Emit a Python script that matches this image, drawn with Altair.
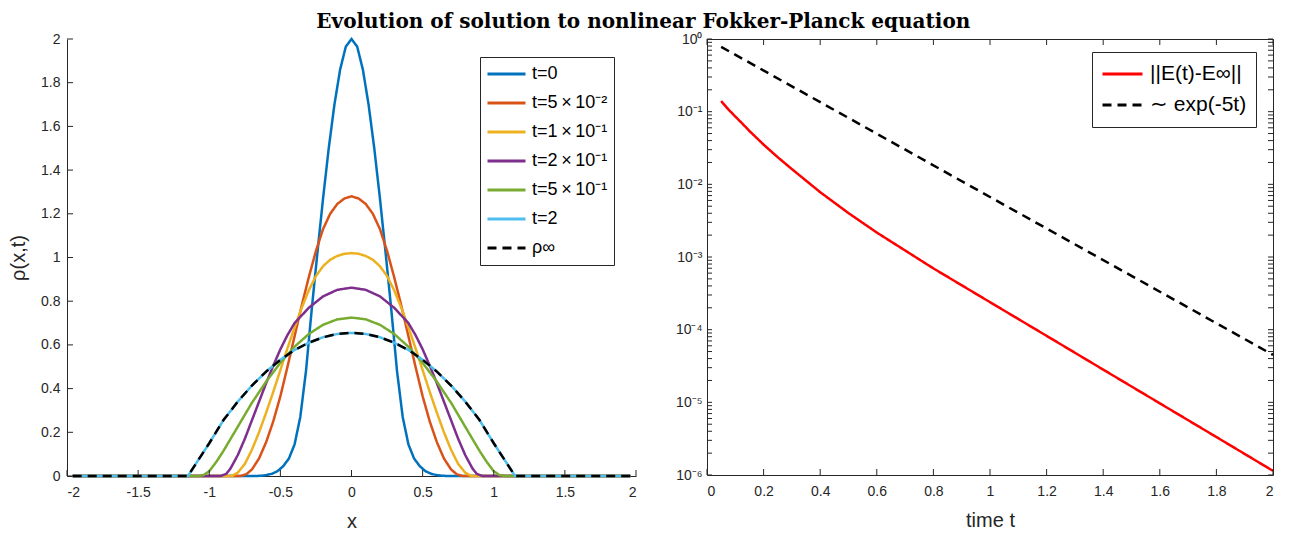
import json
import altair as alt
import pandas as pd

TITLE = "Evolution of solution to nonlinear Fokker-Planck equation"
FONT = "Liberation Sans"
AX = "#262626"

# ---------------- left panel data ----------------
series_names = ["t=0", "t=5\u2009×\u200910⁻²", "t=1\u2009×\u200910⁻¹", "t=2\u2009×\u200910⁻¹",
                "t=5\u2009×\u200910⁻¹", "t=2", "ρ∞"]
series_colors = ["#0072BD", "#D95319", "#EDB120", "#7E2F8E", "#77AC30", "#4DBEEE", "#000000"]
series_dash = [[1, 0], [1, 0], [1, 0], [1, 0], [1, 0], [1, 0], [9, 6]]

x_t0 = [-1.96, -0.68, -0.64, -0.60, -0.56, -0.52, -0.48, -0.44, -0.40, -0.36, -0.32, -0.28,
        -0.24, -0.20, -0.16, -0.12, -0.08, -0.04, 0.0, 0.04, 0.08, 0.12, 0.16, 0.20, 0.24,
        0.28, 0.32, 0.36, 0.40, 0.44, 0.48, 0.52, 0.56, 0.60, 0.64, 0.68, 1.96]
rho_t0 = [0, 0, 0.001, 0.004, 0.01, 0.022, 0.045, 0.08, 0.145, 0.27, 0.48, 0.76,
          1.02, 1.27, 1.50, 1.70, 1.86, 1.965, 2.0, 1.965, 1.86, 1.70, 1.50, 1.27, 1.02,
          0.76, 0.48, 0.27, 0.145, 0.08, 0.045, 0.022, 0.01, 0.004, 0.001, 0, 0]

x_t005 = [-1.96, -0.78, -0.74, -0.70, -0.65, -0.60, -0.55, -0.50, -0.45, -0.40, -0.35, -0.30,
          -0.25, -0.20, -0.15, -0.10, -0.05, 0.0, 0.05, 0.10, 0.15, 0.20, 0.25, 0.30, 0.35,
          0.40, 0.45, 0.50, 0.55, 0.60, 0.65, 0.70, 0.74, 0.78, 1.96]
rho_t005 = [0, 0, 0.008, 0.03, 0.08, 0.155, 0.25, 0.365, 0.50, 0.64, 0.78, 0.91,
            1.03, 1.13, 1.20, 1.245, 1.27, 1.28, 1.27, 1.245, 1.20, 1.13, 1.03, 0.91, 0.78,
            0.64, 0.50, 0.365, 0.25, 0.155, 0.08, 0.03, 0.008, 0, 0]

x_t01 = [-1.96, -0.84, -0.80, -0.75, -0.70, -0.65, -0.60, -0.55, -0.50, -0.45, -0.40, -0.35,
         -0.30, -0.25, -0.20, -0.15, -0.10, -0.05, 0.0, 0.05, 0.10, 0.15, 0.20, 0.25, 0.30,
         0.35, 0.40, 0.45, 0.50, 0.55, 0.60, 0.65, 0.70, 0.75, 0.80, 0.84, 1.96]
rho_t01 = [0, 0, 0.015, 0.055, 0.12, 0.20, 0.29, 0.385, 0.485, 0.585, 0.68, 0.77,
           0.85, 0.915, 0.96, 0.99, 1.007, 1.017, 1.02, 1.017, 1.007, 0.99, 0.96, 0.915, 0.85,
           0.77, 0.68, 0.585, 0.485, 0.385, 0.29, 0.20, 0.12, 0.055, 0.015, 0, 0]

x_t02 = [-1.96, -0.92, -0.88, -0.85, -0.80, -0.75, -0.70, -0.65, -0.60, -0.55, -0.50, -0.45,
         -0.40, -0.30, -0.20, -0.10, 0.0, 0.10, 0.20, 0.30, 0.40, 0.45, 0.50, 0.55, 0.60,
         0.65, 0.70, 0.75, 0.80, 0.85, 0.88, 0.92, 1.96]
rho_t02 = [0, 0, 0.01, 0.035, 0.095, 0.17, 0.255, 0.34, 0.425, 0.505, 0.58, 0.645,
           0.70, 0.77, 0.822, 0.852, 0.862, 0.852, 0.822, 0.77, 0.70, 0.645, 0.58, 0.505, 0.425,
           0.34, 0.255, 0.17, 0.095, 0.035, 0.01, 0, 0]

x_t05 = [-1.96, -1.08, -1.04, -1.00, -0.95, -0.90, -0.80, -0.70, -0.60, -0.50, -0.40, -0.30,
         -0.20, -0.10, 0.0, 0.10, 0.20, 0.30, 0.40, 0.50, 0.60, 0.70, 0.80, 0.90, 0.95,
         1.00, 1.04, 1.08, 1.96]
rho_t05 = [0, 0, 0.004, 0.022, 0.065, 0.115, 0.225, 0.335, 0.432, 0.518, 0.592, 0.650,
           0.692, 0.717, 0.725, 0.717, 0.692, 0.650, 0.592, 0.518, 0.432, 0.335, 0.225, 0.115, 0.065,
           0.022, 0.004, 0, 0]

x_t2 = [-1.96, -1.15, -1.10, -1.00, -0.90, -0.80, -0.70, -0.60, -0.50, -0.40, -0.30, -0.20,
        -0.10, 0.0, 0.10, 0.20, 0.30, 0.40, 0.50, 0.60, 0.70, 0.80, 0.90, 1.00, 1.10, 1.15, 1.96]
rho_t2 = [0, 0, 0.05, 0.15, 0.256, 0.34, 0.414, 0.478, 0.532, 0.577, 0.61, 0.635,
          0.65, 0.655, 0.65, 0.635, 0.61, 0.577, 0.532, 0.478, 0.414, 0.34, 0.256, 0.15, 0.05, 0, 0]

x_inf = [-1.96, -1.15, -1.10, -1.00, -0.90, -0.80, -0.70, -0.60, -0.50, -0.40, -0.30, -0.20,
         -0.10, 0.0, 0.10, 0.20, 0.30, 0.40, 0.50, 0.60, 0.70, 0.80, 0.90, 1.00, 1.10, 1.15, 1.96]
rho_inf = [0, 0, 0.05, 0.15, 0.256, 0.34, 0.414, 0.478, 0.532, 0.577, 0.61, 0.635,
           0.65, 0.655, 0.65, 0.635, 0.61, 0.577, 0.532, 0.478, 0.414, 0.34, 0.256, 0.15, 0.05, 0, 0]

x_ticks_left = [-2, -1.5, -1, -0.5, 0, 0.5, 1, 1.5, 2]
y_ticks_left = [0, 0.2, 0.4, 0.6, 0.8, 1, 1.2, 1.4, 1.6, 1.8, 2]

# ---------------- right panel data ----------------
err_names = ["||E(t)-E∞||", "∼ exp(-5t)"]
err_colors = ["#FF0000", "#000000"]
err_dash = [[1, 0], [9, 6]]

t_err = [0.05, 0.075, 0.10, 0.125, 0.15, 0.20, 0.25, 0.30, 0.40, 0.50, 0.60, 0.80,
         1.00, 1.20, 1.40, 1.60, 1.80, 2.00]
err_vals = [0.14, 0.108, 0.0857, 0.0685, 0.0542, 0.0352, 0.0236, 0.0162, 0.0078, 0.00402,
            0.00217, 6.97e-4, 2.39e-4, 8.22e-5, 2.82e-5, 9.69e-6, 3.33e-6, 1.14e-6]

t_ref = [0.05, 0.5, 1.0, 1.5, 2.0]
ref_vals = [0.78, 0.082, 6.7e-3, 5.5e-4, 4.5e-5]

x_ticks_right = [0, 0.2, 0.4, 0.6, 0.8, 1, 1.2, 1.4, 1.6, 1.8, 2]
y_ticks_right = [1e-6, 1e-5, 1e-4, 1e-3, 1e-2, 1e-1, 1]
y_tick_labels_right = ["10⁻⁶", "10⁻⁵", "10⁻⁴", "10⁻³", "10⁻²", "10⁻¹", "10⁰"]
y_minor_right = [m * 10.0 ** e for e in range(-6, 0) for m in range(2, 10)]

# ---------------- tables ----------------
left_rows = []
for name, xs, ys in zip(series_names,
                        [x_t0, x_t005, x_t01, x_t02, x_t05, x_t2, x_inf],
                        [rho_t0, rho_t005, rho_t01, rho_t02, rho_t05, rho_t2, rho_inf]):
    for i, (a, b) in enumerate(zip(xs, ys)):
        left_rows.append({"series": name, "x": a, "rho": b, "idx": i})
left_df = pd.DataFrame(left_rows)

right_rows = []
for name, ts, vs in zip(err_names, [t_err, t_ref], [err_vals, ref_vals]):
    for i, (a, b) in enumerate(zip(ts, vs)):
        right_rows.append({"series": name, "t": a, "val": b, "idx": i})
right_df = pd.DataFrame(right_rows)

xl_ticks_df = pd.DataFrame({"x": x_ticks_left})
yl_ticks_df = pd.DataFrame({"rho": y_ticks_left})
xr_ticks_df = pd.DataFrame({"t": x_ticks_right})
yr_ticks_df = pd.DataFrame({"val": y_ticks_right + y_minor_right})

W1, H1 = 569, 437
W2, H2 = 566, 436
TL = 6

num_fmt = "replace(format(datum.value, '~g'), '\u2212', '-')"
log_lbl = json.dumps(y_tick_labels_right, ensure_ascii=False) + "[round(log(datum.value)/LN10)+6]"

# ---------------- shared scale / axis definitions ----------------
lx = alt.Scale(domain=[-2, 2], nice=False, zero=False)
ly = alt.Scale(domain=[0, 2], nice=False)
ax_lx = alt.Axis(orient="bottom", values=x_ticks_left, ticks=False, domain=True,
                 domainColor=AX, labelExpr=num_fmt, labelPadding=9, titlePadding=12, grid=False)
ax_ly = alt.Axis(orient="left", values=y_ticks_left, ticks=False, domain=True,
                 domainColor=AX, labelExpr=num_fmt, labelPadding=7, titlePadding=12, grid=False)

def enc_lx():
    return alt.X("x:Q", scale=lx, title="x", axis=ax_lx)

def enc_ly():
    return alt.Y("rho:Q", scale=ly, title="ρ(x,t)", axis=ax_ly)

rx = alt.Scale(domain=[0, 2], nice=False)
ry = alt.Scale(type="log", domain=[1e-6, 1], nice=False)
ax_rx = alt.Axis(orient="bottom", values=x_ticks_right, ticks=False, domain=False,
                 labelExpr=num_fmt, labelPadding=9, titlePadding=12, grid=False)
ax_ry = alt.Axis(orient="left", values=y_ticks_right, ticks=False, domain=False,
                 labelExpr=log_lbl, labelPadding=5, grid=False)

def enc_rx():
    return alt.X("t:Q", scale=rx, title="time t", axis=ax_rx)

def enc_ry():
    return alt.Y("val:Q", scale=ry, title=None, axis=ax_ry)

# ---------------- left panel ----------------
leg_left = alt.Legend(orient="none", legendX=413, legendY=18, strokeColor=AX, fillColor="white",
                      padding=6, labelFontSize=18, labelFont=FONT, labelColor="black",
                      symbolType="stroke", symbolSize=1444, symbolStrokeWidth=3,
                      labelLimit=400, clipHeight=22, rowPadding=7, labelOffset=5)

left_lines = alt.Chart(left_df).mark_line(strokeWidth=2.5).encode(
    x=enc_lx(), y=enc_ly(),
    color=alt.Color("series:N", scale=alt.Scale(domain=series_names, range=series_colors),
                    legend=leg_left, title=None),
    strokeDash=alt.StrokeDash("series:N", scale=alt.Scale(domain=series_names, range=series_dash),
                              legend=leg_left, title=None),
    order="idx:Q",
)

left_xticks = alt.Chart(xl_ticks_df).mark_rule(color=AX, strokeWidth=1).encode(
    x=enc_lx(), y=alt.value(H1), y2=alt.value(H1 - TL),
)
left_yticks = alt.Chart(yl_ticks_df).mark_rule(color=AX, strokeWidth=1).encode(
    y=enc_ly(), x=alt.value(0), x2=alt.value(TL),
)

left = alt.layer(left_lines, left_xticks, left_yticks).properties(
    width=W1, height=H1, view=alt.ViewBackground(stroke="transparent"))

# ---------------- right panel ----------------
leg_right = alt.Legend(orient="none", legendX=385, legendY=13, strokeColor=AX, fillColor="white",
                       padding=9, labelFontSize=21, labelFont=FONT, labelColor="black",
                       symbolType="stroke", symbolSize=1600, symbolStrokeWidth=3,
                       labelLimit=400, clipHeight=26, rowPadding=5, labelOffset=6)

right_lines = alt.Chart(right_df).mark_line(strokeWidth=2.5).encode(
    x=enc_rx(), y=enc_ry(),
    color=alt.Color("series:N", scale=alt.Scale(domain=err_names, range=err_colors),
                    legend=leg_right, title=None),
    strokeDash=alt.StrokeDash("series:N", scale=alt.Scale(domain=err_names, range=err_dash),
                              legend=leg_right, title=None),
    order="idx:Q",
)

right_xticks_bottom = alt.Chart(xr_ticks_df).mark_rule(color=AX, strokeWidth=1).encode(
    x=enc_rx(), y=alt.value(H2), y2=alt.value(H2 - TL),
)
right_xticks_top = alt.Chart(xr_ticks_df).mark_rule(color=AX, strokeWidth=1).encode(
    x=enc_rx(), y=alt.value(0), y2=alt.value(TL),
)
right_yticks_left = alt.Chart(yr_ticks_df).mark_rule(color=AX, strokeWidth=1).encode(
    y=enc_ry(), x=alt.value(0), x2=alt.value(TL - 1),
)
right_yticks_right = alt.Chart(yr_ticks_df).mark_rule(color=AX, strokeWidth=1).encode(
    y=enc_ry(), x=alt.value(W2), x2=alt.value(W2 - TL + 1),
)

right = alt.layer(right_lines, right_xticks_bottom, right_xticks_top,
                  right_yticks_left, right_yticks_right).properties(width=W2, height=H2)

chart = alt.hconcat(left, right, spacing=37).resolve_scale(
    color="independent", strokeDash="independent"
).properties(
    title=alt.TitleParams(TITLE, font="DejaVu Serif", fontSize=20, fontWeight="bold",
                          anchor="middle", offset=0, color="black"),
    padding={"left": 0, "top": 3, "right": 3, "bottom": 0},
).configure_view(stroke=AX, strokeWidth=1).configure_axis(
    labelFont=FONT, labelFontSize=14, labelColor=AX, titleFont=FONT, titleFontSize=20,
    titleColor=AX, titleFontWeight="normal", grid=False
).configure_legend(labelFont=FONT)

chart.save("out.html", embed_options={"renderer": "svg", "actions": False})
